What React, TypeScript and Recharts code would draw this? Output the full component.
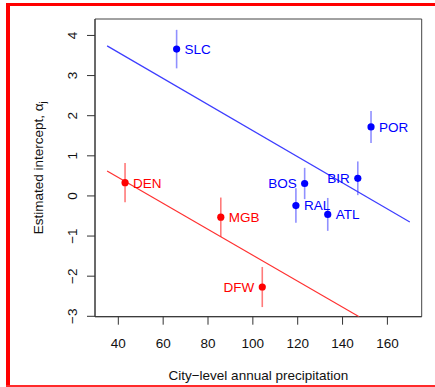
import React from 'react';
import { ComposedChart, XAxis, YAxis, Scatter, ErrorBar, ReferenceArea, Label } from 'recharts';

// Blue group (upper fit line)
const blueCities = ['SLC', 'POR', 'BIR', 'BOS', 'RAL', 'ATL'];
const blueX = [66.0, 152.7, 146.8, 123.1, 119.2, 133.4];
const blueY = [3.66, 1.72, 0.44, 0.31, -0.24, -0.46];
const blueErr = [0.48, 0.4, 0.42, 0.39, 0.43, 0.41];
const blueSide = ['right', 'right', 'left', 'left', 'right', 'right'];

// Red group (lower fit line)
const redCities = ['DEN', 'MGB', 'DFW'];
const redX = [43.0, 85.7, 104.2];
const redY = [0.33, -0.53, -2.27];
const redErr = [0.49, 0.49, 0.5];
const redSide = ['right', 'right', 'left'];

// Fitted lines
const blueFitX = [35, 170];
const blueFitY = [3.74, -0.65];
const redFitX = [35, 147.4];
const redFitY = [0.62, -3.01];

const xTicks = [40, 60, 80, 100, 120, 140, 160];
const yTicks = [-3, -2, -1, 0, 1, 2, 3, 4];
const xDomain = [29.6, 175.3];
const yDomain = [-3.01, 4.41];

const FONT = '"Liberation Sans", Arial, Helvetica, sans-serif';
const FS = 13.5;

const blueData = blueCities.map((c, i) => ({ name: c, x: blueX[i], y: blueY[i], err: blueErr[i], side: blueSide[i] }));
const redData = redCities.map((c, i) => ({ name: c, x: redX[i], y: redY[i], err: redErr[i], side: redSide[i] }));
const blueFit = blueFitX.map((x, i) => ({ x, y: blueFitY[i] }));
const redFit = redFitX.map((x, i) => ({ x, y: redFitY[i] }));

const fmt = (v: number) => (v < 0 ? '\u2212' + Math.abs(v) : String(v));

const makeShape = (color: string) => (props: any) => {
  const { cx, cy, payload } = props;
  const right = payload.side === 'right';
  return (
    <g>
      <circle cx={cx} cy={cy} r={3.6} fill={color} />
      <text
        x={right ? cx + 8 : cx - 8}
        y={cy}
        dy="0.36em"
        textAnchor={right ? 'start' : 'end'}
        fill={color}
        fontSize={FS}
        fontFamily={FONT}
      >
        {payload.name}
      </text>
    </g>
  );
};

const noShape = () => <g />;

const YTick = (props: any) => {
  const { x, y, payload } = props;
  const cx = x - 13;
  return (
    <text
      x={cx}
      y={y}
      dy="0.36em"
      transform={`rotate(-90 ${cx} ${y})`}
      textAnchor="middle"
      fill="#111"
      fontSize={FS}
      fontFamily={FONT}
    >
      {fmt(payload.value)}
    </text>
  );
};

const XTick = (props: any) => {
  const { x, y, payload } = props;
  return (
    <text x={x} y={y} dy="0.71em" textAnchor="middle" fill="#111" fontSize={FS} fontFamily={FONT}>
      {fmt(payload.value)}
    </text>
  );
};

const XTitle = (props: any) => {
  const vb = props.viewBox;
  return (
    <text x={vb.x + vb.width / 2} y={vb.y + 58.3} dy="0.36em" textAnchor="middle" fill="#111" fontSize={FS} fontFamily={FONT}>
      City{'\u2212'}level annual precipitation
    </text>
  );
};

const YTitle = (props: any) => {
  const vb = props.viewBox;
  const cx = vb.x + 3.2;
  const cy = vb.y + vb.height / 2;
  return (
    <text
      x={cx}
      y={cy}
      dy="0.36em"
      transform={`rotate(-90 ${cx} ${cy})`}
      textAnchor="middle"
      fill="#111"
      fontSize={FS}
      fontFamily={FONT}
    >
      Estimated intercept, {'\u03B1'}
      <tspan fontSize={FS * 0.7} dy="0.3em">j</tspan>
    </text>
  );
};

export default function App() {
  return (
    <div style={{ position: 'absolute', left: 0, top: 0, width: 435, height: 387, background: '#fff' }}>
      <div style={{ position: 'absolute', left: 6, top: 2.5, width: 429, height: 3, background: '#ff0000' }} />
      <div style={{ position: 'absolute', left: 6, top: 2.5, width: 4, height: 384, background: '#ff0000' }} />
      <div style={{ position: 'absolute', left: 6, top: 385, width: 429, height: 1.5, background: '#ff2a2a' }} />
      <div style={{ position: 'absolute', left: 0, top: 0 }}>
        <ComposedChart width={435} height={387} margin={{ top: 19, right: 13.3, bottom: 0.3, left: 35 }}>
          <XAxis
            type="number"
            dataKey="x"
            domain={xDomain}
            ticks={xTicks}
            allowDataOverflow
            tickSize={8}
            tickMargin={14}
            height={70}
            stroke="#333"
            tick={<XTick />}
          >
            <Label content={<XTitle />} />
          </XAxis>
          <YAxis
            type="number"
            dataKey="y"
            domain={yDomain}
            ticks={yTicks}
            allowDataOverflow
            tickSize={8}
            tickMargin={2}
            width={60}
            stroke="#333"
            tick={<YTick />}
          >
            <Label content={<YTitle />} />
          </YAxis>
          <ReferenceArea
            x1={xDomain[0]}
            x2={xDomain[1]}
            y1={yDomain[0]}
            y2={yDomain[1]}
            fill="none"
            stroke="#444"
            strokeWidth={1}
            ifOverflow="extendDomain"
          />
          <Scatter
            data={blueFit}
            line={{ stroke: '#3d3dff', strokeWidth: 1.2 }}
            shape={noShape}
            isAnimationActive={false}
          />
          <Scatter
            data={redFit}
            line={{ stroke: '#ff3030', strokeWidth: 1.2 }}
            shape={noShape}
            isAnimationActive={false}
          />
          <Scatter data={blueData} shape={makeShape('#0000ff')} isAnimationActive={false}>
            <ErrorBar dataKey="err" direction="y" width={0} stroke="#9090ff" strokeWidth={1.6} isAnimationActive={false} />
          </Scatter>
          <Scatter data={redData} shape={makeShape('#ff0000')} isAnimationActive={false}>
            <ErrorBar dataKey="err" direction="y" width={0} stroke="#ff7a7a" strokeWidth={1.6} isAnimationActive={false} />
          </Scatter>
        </ComposedChart>
      </div>
    </div>
  );
}
